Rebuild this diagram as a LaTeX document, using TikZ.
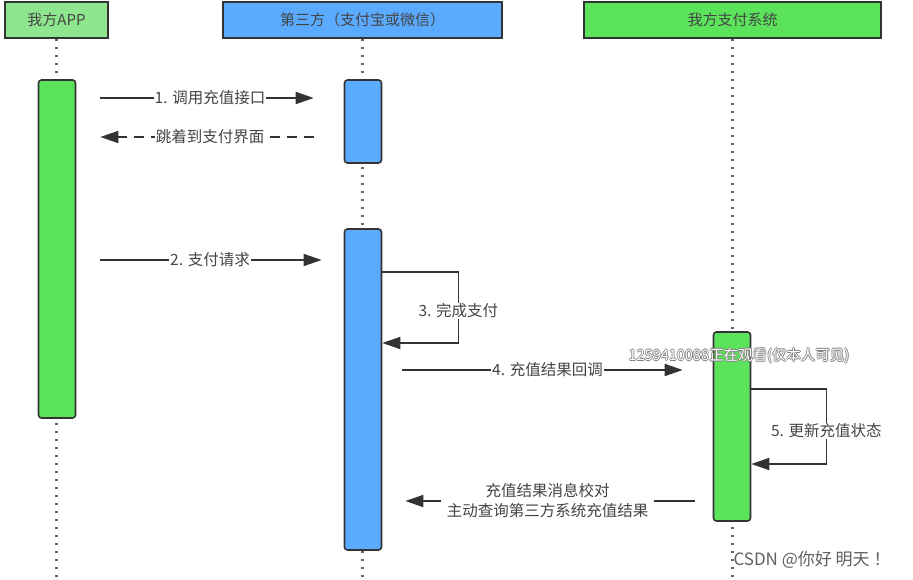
\documentclass[tikz,border=0pt]{standalone}
\usepackage{fontspec}
\setmainfont{Noto Sans CJK SC}
\usetikzlibrary{arrows.meta}
\definecolor{appGreen}{HTML}{8EE68E}
\definecolor{sysGreen}{HTML}{5CE35C}
\definecolor{thirdBlue}{HTML}{5AABFF}
\definecolor{lineGray}{HTML}{333333}
\definecolor{textGray}{HTML}{444444}
\newcommand{\haloText}[1]{\leavevmode\rlap{\kern0.8pt\textcolor{gray}{#1}}\rlap{\kern-0.8pt\textcolor{gray}{#1}}\rlap{\raisebox{0.8pt}{\textcolor{gray}{#1}}}\rlap{\raisebox{-0.8pt}{\textcolor{gray}{#1}}}\textcolor{white}{#1}}
\tikzset{
	head/.style={draw=lineGray, line width=1.6pt, minimum height=36pt, text=textGray, font=\fontsize{15}{18}\selectfont},
	act/.style={draw=lineGray, line width=1.6pt, rounded corners=3pt, minimum width=37pt},
	lifeline/.style={draw=lineGray!75, line width=2.4pt, dash pattern=on 2.4pt off 5.6pt},
	msg/.style={draw=lineGray, line width=1.6pt, -{Triangle[length=18pt, width=12pt]}},
	lbl/.style={fill=white, inner sep=1pt, text=textGray, font=\fontsize{15.5}{20}\selectfont, align=center},
}

\begin{document}
\begin{tikzpicture}[x=1pt, y=-1pt]
				\useasboundingbox (0,0) rectangle (913,580);
				\node[head, fill=appGreen, minimum width=103pt] (App) at (56.5,20) {我方APP};
				\node[head, fill=thirdBlue, minimum width=279pt] (Third) at (362.5,20) {第三方（支付宝或微信）};
				\node[head, fill=sysGreen, minimum width=297pt] (PaySys) at (732.5,20) {我方支付系统};
				
				\draw[lifeline] (App.south) -- (App.south |- 0,580);
				\draw[lifeline] (Third.south) -- (Third.south |- 0,580);
				\draw[lifeline] (PaySys.south) -- (PaySys.south |- 0,580);
				
				\node[act, fill=sysGreen, minimum height=338pt] (AppAct) at (57,249) {};
				\node[act, fill=thirdBlue, minimum height=83pt] (ThirdActA) at (363,121.5) {};
				\node[act, fill=thirdBlue, minimum height=321pt] (ThirdActB) at (363,389.5) {};
				\node[act, fill=sysGreen, minimum height=189pt] (PayAct) at (732,426.5) {};
				
				\draw[msg, shorten <=24pt, shorten >=30pt] (AppAct.east |- 0,98) -- (ThirdActA.west |- 0,98) node[lbl, midway] {1. 调用充值接口};
				\draw[msg, dash pattern=on 10pt off 7pt, shorten <=30pt, shorten >=24pt] (ThirdActA.west |- 0,137) -- (AppAct.east |- 0,137) node[lbl, midway] {跳着到支付界面};
				\draw[msg, shorten <=24pt, shorten >=22pt] (AppAct.east |- 0,260) -- (ThirdActB.west |- 0,260) node[lbl, midway] {2. 支付请求};
				\draw[msg] (ThirdActB.east |- 0,272) -- ++(76,0) -- ++(0,71) node[lbl, pos=0.55] {3. 完成支付} -- ++(-76,0);
				\draw[msg, shorten <=20pt, shorten >=30pt] (ThirdActB.east |- 0,370) -- (PayAct.west |- 0,370) node[lbl, midway] {4. 充值结果回调};
				\draw[msg] (PayAct.east |- 0,389) -- ++(75,0) -- ++(0,75) node[lbl, pos=0.56] {5. 更新充值状态} -- ++(-75,0);
				\draw[msg, shorten <=18pt, shorten >=23pt] (PayAct.west |- 0,501) -- (ThirdActB.east |- 0,501) node[lbl, midway, inner xsep=6pt] {充值结果消息校对\\主动查询第三方系统充值结果};
				
				\node[font=\fontsize{14.5}{16}\selectfont] (watch) at (739,356) {\haloText{1259410088正在观看(仅本人可见)}};
				\node[text=textGray!85, font=\fontsize{17}{19}\selectfont] (csdn) at (812,560) {CSDN @你好 明天 ！};
			\end{tikzpicture}
\end{document}
